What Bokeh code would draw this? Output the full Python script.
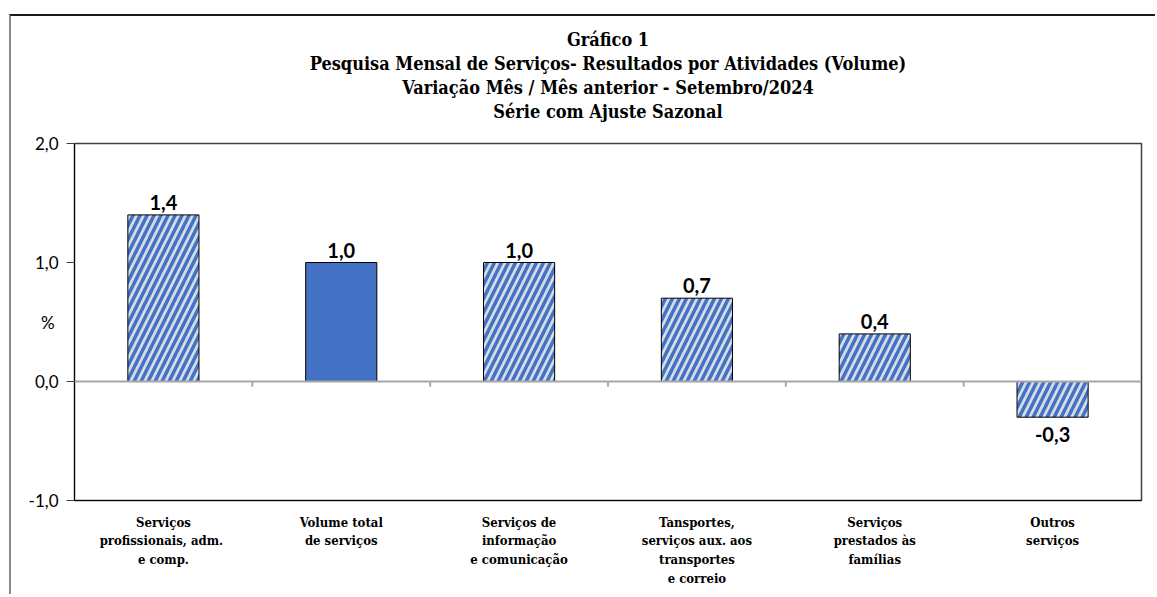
from bokeh.plotting import figure
from bokeh.models import ColumnDataSource, Range1d, FixedTicker, Title, Span
from bokeh.core.properties import value
from bokeh.embed import file_html
from bokeh.resources import INLINE

# ---- data ----
categories = [
    "Serviços\nprofissionais,  adm.\ne comp.",
    "Volume total\nde serviços",
    "Serviços de\ninformação\ne comunicação",
    "Tansportes,\nserviços aux. aos\ntransportes\ne correio",
    "Serviços\nprestados às\nfamílias",
    "Outros\nserviços",
]
values = [1.4, 1.0, 1.0, 0.7, 0.4, -0.3]
hatched = [True, False, True, True, True, True]
y_ticks = [-1.0, 0.0, 1.0, 2.0]
y_tick_labels = ["-1,0", "0,0", "1,0", "2,0"]
titles = [
    "Gráfico 1",
    "Pesquisa Mensal de Serviços- Resultados por Atividades (Volume)",
    "Variação Mês / Mês anterior - Setembro/2024",
    "Série com Ajuste Sazonal",
]

n = len(categories)
xs = list(range(n))
fmt = lambda v: f"{v:.1f}".replace(".", ",")

p = figure(width=1146, height=580, output_backend="svg", toolbar_location=None,
           x_range=Range1d(-0.5, n - 0.5), y_range=Range1d(-1.0, 2.0),
           min_border_left=63, min_border_right=16, min_border_top=127, min_border_bottom=96,
           margin=(14, 0, 0, 9),
           styles={"border-left": "2px solid #8c8c8c", "border-top": "2px solid #1a1a1a"})
p.title = None
p.background_fill_color = "white"
p.border_fill_color = "white"
p.outline_line_color = "#404040"
p.outline_line_width = 1.5
p.xgrid.visible = False
p.ygrid.visible = False

# titles (first added is closest to plot)
p.add_layout(Title(text=" ", text_font_size="8px"), "above")
for t in reversed(titles):
    p.add_layout(Title(text=t, align="center", text_font="DejaVu Serif Condensed",
                       text_font_size="18px", text_font_style="bold", text_color="#000000",
                       standoff=1), "above")

# bars
hx = [x for x, h in zip(xs, hatched) if h]
hv = [v for v, h in zip(values, hatched) if h]
sx = [x for x, h in zip(xs, hatched) if not h]
sv = [v for v, h in zip(values, hatched) if not h]
p.vbar(x=hx, top=hv, bottom=0, width=0.4, fill_color="#d6dce6", line_color="#000000",
       line_width=1, hatch_pattern="right_diagonal_line", hatch_color="#4472c4",
       hatch_scale=14, hatch_weight=3.5)
p.vbar(x=sx, top=sv, bottom=0, width=0.4, fill_color="#4472c4", line_color="#000000",
       line_width=1)

# zero line and boundary ticks
p.add_layout(Span(location=0, dimension="width", line_color="#a6a6a6", line_width=2))
bounds = [i + 0.5 for i in range(n - 1)]
p.segment(x0=bounds, y0=[0] * len(bounds), x1=bounds, y1=[-0.045] * len(bounds),
          line_color="#a6a6a6", line_width=2)

# data labels
pos = ColumnDataSource(dict(x=[x for x, v in zip(xs, values) if v >= 0],
                            y=[v for v in values if v >= 0],
                            t=[fmt(v) for v in values if v >= 0]))
neg = ColumnDataSource(dict(x=[x for x, v in zip(xs, values) if v < 0],
                            y=[v for v in values if v < 0],
                            t=[fmt(v) for v in values if v < 0]))
p.text(x="x", y="y", text="t", source=pos, text_align="center", text_baseline="bottom",
       y_offset=-5, text_font=value("Lato"), text_font_style="bold",
       text_font_size="20px", text_color="#000000")
p.text(x="x", y="y", text="t", source=neg, text_align="center", text_baseline="top",
       y_offset=10, text_font=value("Lato"), text_font_style="bold",
       text_font_size="20px", text_color="#000000")

# y axis
p.yaxis.ticker = FixedTicker(ticks=y_ticks)
p.yaxis.major_label_overrides = {t: l for t, l in zip(y_ticks, y_tick_labels)}
p.yaxis.minor_tick_line_color = None
p.yaxis.major_tick_in = 0
p.yaxis.major_tick_out = 8
p.yaxis.major_tick_line_color = "#404040"
p.yaxis.axis_line_color = "#000000"
p.yaxis.major_label_standoff = 8
p.yaxis.major_label_text_font = "Lato"
p.yaxis.major_label_text_font_size = "17px"
p.yaxis.major_label_text_color = "#000000"
p.yaxis.axis_label = "%"
p.yaxis.axis_label_orientation = "horizontal"
p.yaxis.axis_label_standoff = -29
p.yaxis.axis_label_text_font = "Lato"
p.yaxis.axis_label_text_font_style = "normal"
p.yaxis.axis_label_text_font_size = "17px"
p.yaxis.axis_label_text_color = "#000000"

# x axis
p.xaxis.ticker = FixedTicker(ticks=xs)
p.xaxis.major_label_overrides = {x: c for x, c in zip(xs, categories)}
p.xaxis.minor_tick_line_color = None
p.xaxis.major_tick_line_color = None
p.xaxis.major_tick_in = 0
p.xaxis.major_tick_out = 0
p.xaxis.axis_line_color = "#000000"
p.xaxis.major_label_standoff = 14
p.xaxis.major_label_text_font = "DejaVu Serif Condensed"
p.xaxis.major_label_text_font_style = "bold"
p.xaxis.major_label_text_font_size = "13px"
p.xaxis.major_label_text_line_height = 1.25
p.xaxis.major_label_text_color = "#000000"

open("out.html", "w").write(file_html(p, INLINE))
